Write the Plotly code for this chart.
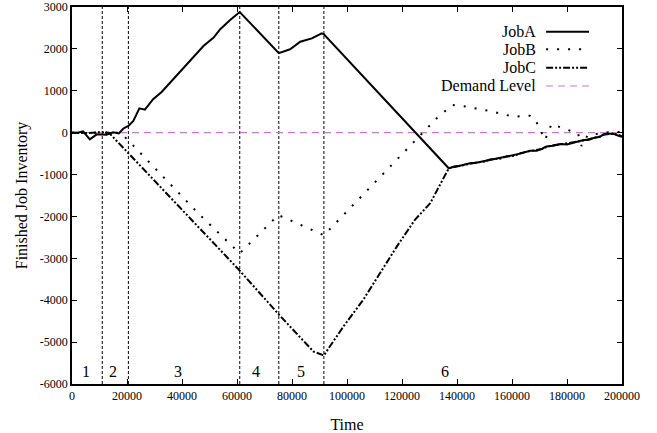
import plotly.graph_objects as go

# ---------------- data ----------------
jobA_x = [0, 2000, 4000, 6500, 9000, 12500, 15000, 17000, 18700, 20500, 22300, 24500, 26500,
          29500, 32600, 35600, 39300, 41700, 44800, 47800, 51500, 53900, 57500, 61000,
          75200, 79300, 83000, 87200, 90800, 91600,
          137000, 139000, 141000, 144700, 147000, 150000, 152000, 155600, 158000, 161000,
          163000, 166500, 169000, 171000, 172500, 175000, 177500, 180000, 182500, 184000,
          186000, 188000, 190000, 192000, 193200, 195000, 196900, 199000, 200000]
jobA_y = [0, 0, 30, -160, -40, -50, 10, -20, 100, 160, 280, 580, 550,
          800, 970, 1190, 1450, 1630, 1870, 2070, 2270, 2470, 2690, 2880,
          1900, 1990, 2170, 2250, 2370, 2350,
          -850, -810, -790, -730, -720, -680, -650, -610, -580, -540,
          -500, -430, -430, -380, -330, -310, -270, -280, -230, -200,
          -175, -170, -120, -100, -40, -20, -30, -80, -100]

jobB_x = [0, 5000, 10000, 15000, 17700, 22300, 27700, 45900, 61000, 75000, 91600, 99300,
          118100, 132600, 138300, 142300, 153200, 160500, 166500, 168400, 170200, 172000,
          174400, 178500, 184000, 185300, 187500, 190000, 195000, 200000]
jobB_y = [0, 0, 10, 0, 0, -310, -675, -1925, -2880, -1965, -2450, -1925,
          -650, 343, 660, 635, 500, 380, 405, 320, 80, -175,
          210, 105, -15, -320, -60, -40, 10, 20]

jobC_x = [0, 5000, 10000, 13400, 20500, 42900, 60800, 75200, 83000, 87800, 90800, 91600,
          93800, 99000, 105900, 112000, 118100, 124700, 130200,
          137000, 139000, 141000, 144700, 147000, 150000, 152000, 155600, 158000, 161000,
          163000, 166500, 169000, 171000, 172500, 175000, 177500, 180000, 182500, 184000,
          186000, 188000, 190000, 192000, 193200, 195000, 196900, 199000, 200000]
jobC_y = [0, -10, 10, 0, -490, -2045, -3280, -4340, -4890, -5225, -5300, -5320,
          -5100, -4600, -3990, -3350, -2720, -2080, -1690,
          -850, -820, -800, -740, -710, -690, -640, -620, -570, -550,
          -490, -440, -420, -390, -340, -300, -280, -260, -240, -210,
          -190, -160, -130, -90, -50, -30, -20, -60, -90]

demand_x = [0, 200000]
demand_y = [0, 0]

phase_bounds = [11000, 20500, 61000, 75200, 91600]
phase_labels = ["1", "2", "3", "4", "5", "6"]
phase_label_x = [5100, 14800, 38400, 66800, 83300, 135600]
phase_label_y = -5700

x_tick_vals = [0, 20000, 40000, 60000, 80000, 100000, 120000, 140000, 160000, 180000, 200000]
x_tick_text = ["0", "20000", "40000", "60000", "80000", "100000", "120000", "140000",
               "160000", "180000", "200000"]
y_tick_vals = [3000, 2000, 1000, 0, -1000, -2000, -3000, -4000, -5000, -6000]
y_tick_text = ["3000", "2000", "1000", "0", "-1000", "-2000", "-3000", "-4000", "-5000", "-6000"]

legend_names = ["JobA", "JobB", "JobC", "Demand Level"]

# ---------------- styles ----------------
FONT = "Liberation Serif"
DEMAND_COLOR = "#c878c8"
styles = {
    "JobA": dict(color="black", width=2, dash="solid"),
    "JobB": dict(color="black", width=2, dash="2px,9px"),
    "JobC": dict(color="black", width=2, dash="7px,2px,2px,2px,2px,2px"),
    "Demand Level": dict(color=DEMAND_COLOR, width=1.2, dash="7px,5px"),
}

fig = go.Figure()

fig.add_trace(go.Scatter(x=demand_x, y=demand_y, mode="lines", line=styles["Demand Level"],
                         showlegend=False, hoverinfo="skip"))
fig.add_trace(go.Scatter(x=jobC_x, y=jobC_y, mode="lines", line=styles["JobC"], showlegend=False))
fig.add_trace(go.Scatter(x=jobB_x, y=jobB_y, mode="lines", line=styles["JobB"], showlegend=False))
fig.add_trace(go.Scatter(x=jobA_x, y=jobA_y, mode="lines", line=styles["JobA"], showlegend=False))

for xb in phase_bounds:
    fig.add_shape(type="line", xref="x", yref="paper", x0=xb, x1=xb, y0=0, y1=1,
                  line=dict(color="black", width=1, dash="3px,2px"), layer="below")

for lbl, lx in zip(phase_labels, phase_label_x):
    fig.add_annotation(x=lx, y=phase_label_y, text=lbl, showarrow=False,
                       font=dict(family=FONT, size=16, color="black"))

# manual legend (text left of sample, like gnuplot)
leg_y = [0.9345, 0.8878, 0.839, 0.7905]
for name, ly in zip(legend_names, leg_y):
    fig.add_annotation(xref="paper", yref="paper", x=0.847, y=ly, text=name, showarrow=False,
                       xanchor="right", yanchor="middle",
                       font=dict(family=FONT, size=16, color="black"))
    st = styles[name]
    fig.add_shape(type="line", xref="paper", yref="paper", x0=0.862, x1=0.94, y0=ly, y1=ly,
                  line=dict(color=st["color"], width=st["width"], dash=st["dash"]))

axis_common = dict(showline=True, linecolor="black", linewidth=1.5, mirror="ticks",
                   ticks="inside", ticklen=5, tickcolor="black", tickwidth=1,
                   showgrid=False, zeroline=False, automargin=False,
                   tickfont=dict(family=FONT, size=12, color="black"))

fig.update_xaxes(range=[0, 200000], tickvals=x_tick_vals, ticktext=x_tick_text,
                 title=dict(text="Time", font=dict(family=FONT, size=16, color="black"), standoff=17),
                 **axis_common)
fig.update_yaxes(range=[-6000, 3000], tickvals=y_tick_vals, ticktext=y_tick_text,
                 title=dict(text="Finished Job Inventory", font=dict(family=FONT, size=16, color="black"),
                            standoff=8),
                 **axis_common)

fig.update_layout(width=657, height=433, margin=dict(l=72, r=35, t=7, b=49),
                  plot_bgcolor="white", paper_bgcolor="white", showlegend=False,
                  font=dict(family=FONT, color="black"))

fig.write_html("out.html", config={"displayModeBar": False},
               post_script="document.body.style.margin='0';document.body.style.overflow='hidden';")
